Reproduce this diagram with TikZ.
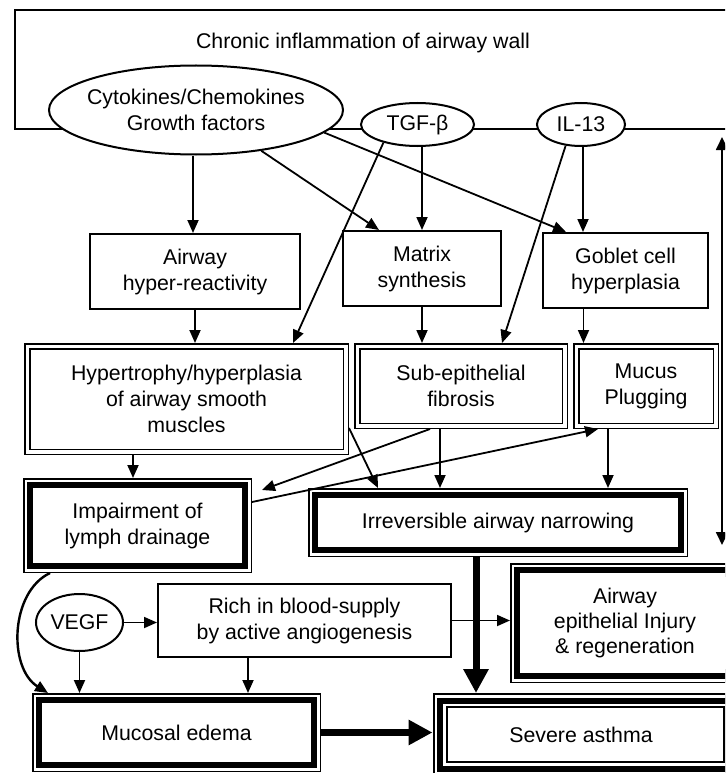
\documentclass[tikz,border=0pt]{standalone}
\usepackage{fontspec}
\setmainfont{Liberation Sans}
\usetikzlibrary{arrows.meta,shapes.geometric,calc}
\begin{document}
\begin{tikzpicture}[x=1pt,y=-1pt,
  every node/.style={font=\fontsize{21.3}{26}\selectfont, align=center, inner sep=0pt},
  plainbox/.style={draw, line width=2pt, fill=white, rectangle, outer sep=1pt},
  dblbox/.style={draw, line width=1.5pt, double=white, double distance=3.5pt, fill=white, rectangle, outer sep=3.25pt},
  heavybox/.style={rectangle, preaction={draw=black, line width=14pt}, preaction={draw=white, line width=11pt}, draw=black, fill=white, line width=6pt, outer sep=7pt},
  severebox/.style={rectangle, preaction={draw=black, line width=15pt}, preaction={draw=white, line width=11pt}, draw=black, line width=6pt, outer sep=7.5pt},
  oval/.style={ellipse, draw, line width=2pt, fill=white, outer sep=1pt},
  arr/.style={line width=1.8pt, -{Triangle[length=13pt,width=11pt]}},
  bigarr/.style={line width=7pt, -{Triangle[length=24pt,width=24pt]}},
  twoarr/.style={line width=1.8pt, {Triangle[length=13pt,width=12pt]}-{Triangle[length=13pt,width=12pt]}}
]
\useasboundingbox (0,0) rectangle (725,773);
\clip (0,0) rectangle (725,773);
\fill[white] (0,0) rectangle (725,773);

% top box
\node[draw, line width=2pt, rectangle, anchor=north west, minimum width=726pt, minimum height=119pt] (wall) at (14,9) {};
\node (walltxt) at (363,43) {Chronic inflammation of airway wall};

% ellipses
\node[oval, minimum width=294pt, minimum height=89pt, inner xsep=-25pt] (cyt) at (196,110) {Cytokines/Chemokines\\Growth factors};
\node[oval, minimum width=113pt, minimum height=43pt] (tgf) at (417.5,124.5) {TGF-β};
\node[oval, minimum width=88pt, minimum height=43pt] (il) at (581,124.5) {IL-13};

% row 1
\node[plainbox, minimum width=210pt, minimum height=75pt] (air) at (195,271.5) {Airway\\hyper-reactivity};
\node[plainbox, minimum width=158pt, minimum height=75pt] (mat) at (422,268.5) {Matrix\\synthesis};
\node[plainbox, minimum width=165pt, minimum height=75pt] (gob) at (625.5,270.5) {Goblet cell\\hyperplasia};

% row 2
\node[dblbox, minimum width=318.5pt, minimum height=105.5pt] (hyp) at (186.5,399) {Hypertrophy/hyperplasia\\of airway smooth\\muscles};
\node[dblbox, minimum width=207.5pt, minimum height=79.5pt] (sub) at (461,386) {Sub-epithelial\\fibrosis};
\node[dblbox, minimum width=139.5pt, minimum height=79.5pt] (muc) at (646,386) {Mucus\\Plugging};

% row 3
\node[heavybox, minimum width=215pt, minimum height=81pt] (imp) at (137.5,525.5) {Impairment of\\lymph drainage};
\node[heavybox, minimum width=366pt, minimum height=55pt] (irr) at (498,522.5) {Irreversible airway narrowing};

% row 4
\node[oval, minimum width=87pt, minimum height=57pt] (veg) at (79.5,622.5) {VEGF};
\node[plainbox, minimum width=293pt, minimum height=73pt] (rich) at (304.5,620.5) {Rich in blood-supply\\by active angiogenesis};
\node[heavybox, minimum width=246pt, minimum height=106pt] (epi) at (640,623) {\hspace*{-30pt}\begin{tabular}{@{}c@{}}Airway\\[-1pt]epithelial Injury\\[-1pt]\& regeneration\end{tabular}};

% row 5
\node[heavybox, minimum width=275pt, minimum height=65pt] (muco) at (176.5,732.5) {Mucosal edema};
\node[severebox, minimum width=290pt, minimum height=68pt] (sev) at (585,734.5) {\hspace*{-8pt}Severe asthma};

% connectors
\coordinate (a1) at ([xshift=-3pt]cyt.south);
\draw[arr] (a1) -- (a1 |- air.north);
\draw[arr] (cyt.-32) -- ([xshift=37pt]mat.north west);
\draw[arr] (cyt.-10) -- ([xshift=24pt]gob.north west);
\coordinate (t1) at (tgf.south -| mat.north);
\draw[arr] (t1) -- (mat.north);
\draw[arr] (tgf.208) -- ([xshift=269pt]hyp.north west);
\coordinate (i1) at ([xshift=2pt]il.south);
\draw[arr] (i1) -- (i1 |- gob.north);
\draw[arr] (il.234) -- ([xshift=148pt]sub.north west);

\draw[arr] (air.south) -- (air.south |- hyp.north);
\draw[arr] (mat.south) -- (mat.south |- sub.north);
\coordinate (g1) at ([xshift=-42pt]gob.south);
\draw[arr] (g1) -- (g1 |- muc.north);

\coordinate (h1) at ([xshift=-53.5pt]hyp.south);
\draw[arr] (h1) -- (h1 |- imp.north);
\draw[arr] ([xshift=76pt]sub.south west) -- ([xshift=10pt,yshift=-12pt]imp.north east);
\draw[arr] ([yshift=-24pt]imp.north east) -- ([xshift=25pt]muc.south west);
\draw[arr] ([yshift=-85pt]hyp.north east) -- ([xshift=70pt]irr.north west);
\coordinate (s1) at ([xshift=-21pt]sub.south);
\draw[arr] (s1) -- (s1 |- irr.north);
\coordinate (m1) at ([xshift=-38pt]muc.south);
\draw[arr] (m1) -- (m1 |- irr.north);

\coordinate (r0) at ([xshift=-22pt]irr.south);
\draw[bigarr] (r0) -- (r0 |- sev.north);

\draw[arr] (veg.east) -- (veg.east -| rich.west);
\draw[arr] (veg.south) -- (veg.south |- muco.north);
\coordinate (r1) at ([xshift=-56.5pt]rich.south);
\draw[arr] (r1) -- (r1 |- muco.north);
\draw[arr] (rich.east) -- (rich.east -| epi.west);
\draw[arr, line width=2.4pt] ([xshift=27pt]imp.south west) .. controls (10,592) and (8,668) .. ([xshift=16pt]muco.north west);
\draw[bigarr] (muco.east) -- (muco.east -| sev.west);

\coordinate (rtop) at (722,137);
\coordinate (rbot) at (722,545);
\draw[twoarr] (rbot) -- (rtop);
\end{tikzpicture}
\end{document}
